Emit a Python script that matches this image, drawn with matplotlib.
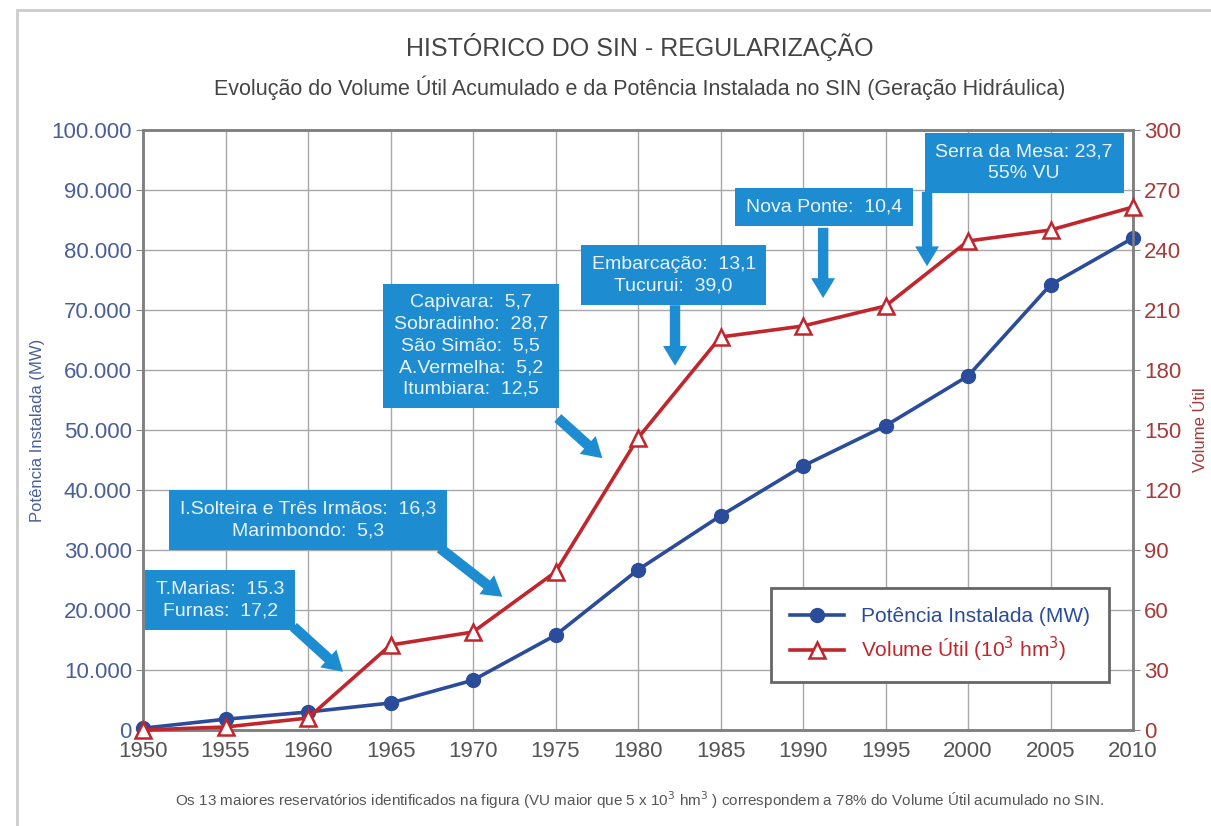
import matplotlib
matplotlib.use("Agg")
import matplotlib.pyplot as plt
from matplotlib.ticker import FuncFormatter
from matplotlib.lines import Line2D

plt.rcParams['font.family'] = ['Liberation Sans Narrow', 'Liberation Sans', 'DejaVu Sans']

# data
years = [1950, 1955, 1960, 1965, 1970, 1975, 1980, 1985, 1990, 1995, 2000, 2005, 2010]
potencia_mw = [300, 1800, 3000, 4500, 8300, 15800, 26700, 35700, 44000, 50700, 59000, 74200, 82000]
volume_util = [0, 1.5, 6, 42.5, 49, 79, 146, 196.5, 202, 212, 244.5, 250, 261.5]

left_ticks = list(range(0, 100001, 10000))
right_ticks = list(range(0, 301, 30))

callouts = [
    "T.Marias:  15.3\nFurnas:  17,2",
    "I.Solteira e Três Irmãos:  16,3\nMarimbondo:  5,3",
    "Capivara:  5,7\nSobradinho:  28,7\nSão Simão:  5,5\nA.Vermelha:  5,2\nItumbiara:  12,5",
    "Embarcação:  13,1\nTucurui:  39,0",
    "Nova Ponte:  10,4",
    "Serra da Mesa: 23,7\n55% VU",
]
# box centres and arrows (tail -> head), axes fraction
box_pos = [(0.078, 0.217), (0.167, 0.35), (0.331, 0.64), (0.536, 0.758), (0.688, 0.872), (0.890, 0.945)]
arrows = [((0.152, 0.172), (0.202, 0.097)),
          ((0.300, 0.303), (0.363, 0.222)),
          ((0.419, 0.52), (0.464, 0.453)),
          ((0.5374, 0.708), (0.5374, 0.607)),
          ((0.687, 0.837), (0.687, 0.72)),
          ((0.792, 0.897), (0.792, 0.773))]

BLUE = '#2b4c9b'
RED = '#c0262c'
BOX = '#1d8cd0'
BLUE_TXT = '#4a5f98'
RED_TXT = '#a83a3a'
GRAY = '#555555'

fig = plt.figure(figsize=(12.11, 8.26), dpi=100)
ax = fig.add_axes([143 / 1211, 1 - 730 / 826, 990 / 1211, 600 / 826])
ax2 = ax.twinx()

ax.plot(years, potencia_mw, color=BLUE, lw=2.6, marker='o', ms=10, clip_on=False, zorder=3)
ax2.plot(years, volume_util, color=RED, lw=2.6, marker='^', ms=12, mfc='white', mec=RED,
         mew=1.8, clip_on=False, zorder=3)

ax.set_xlim(1950, 2010)
ax.set_ylim(0, 100000)
ax2.set_ylim(0, 300)
ax.set_xticks(years)
ax.set_yticks(left_ticks)
ax2.set_yticks(right_ticks)
ax.yaxis.set_major_formatter(FuncFormatter(lambda v, p: f"{int(v):,}".replace(',', '.')))
ax.grid(True, color='#a8a8a8', lw=1)
ax.set_axisbelow(True)

ax.tick_params(axis='x', labelsize=16, colors=GRAY, length=0, pad=8)
ax.tick_params(axis='y', length=5, color='#888888', pad=3)
for t in ax.get_yticklabels():
    t.set_family(['Liberation Sans', 'DejaVu Sans'])
    t.set_fontsize(16)
    t.set_color(BLUE_TXT)
ax2.tick_params(axis='y', length=5, color='#888888', pad=3)
for t in ax2.get_yticklabels():
    t.set_family(['Liberation Sans', 'DejaVu Sans'])
    t.set_fontsize(16)
    t.set_color(RED_TXT)
for a in (ax, ax2):
    for s in a.spines.values():
        s.set_color('#808080')
        s.set_linewidth(1.8)

ax.set_ylabel("Potência Instalada (MW)", color=BLUE_TXT, fontsize=12)
ax.yaxis.set_label_coords(-0.099, 0.5)
ax2.set_ylabel("Volume Útil", color=RED_TXT, fontsize=12, rotation=90)
ax2.yaxis.set_label_coords(1.061, 0.5)

# callouts
for txt, (bx, by), (tail, head) in zip(callouts, box_pos, arrows):
    ax2.annotate("", xy=head, xytext=tail, xycoords='axes fraction', textcoords='axes fraction',
                 arrowprops=dict(arrowstyle="simple,head_length=0.95,head_width=1.15,tail_width=0.5",
                                 mutation_scale=15, color=BOX, lw=0, shrinkA=0, shrinkB=0),
                 zorder=5)
    ax2.text(bx, by, txt, transform=ax2.transAxes, ha='center', va='center', fontsize=14,
             color='#eaf3fb', linespacing=1.35, zorder=6,
             bbox=dict(boxstyle='square,pad=0.55', fc=BOX, ec='none'))

# legend
handles = [Line2D([], [], color=BLUE, lw=2.6, marker='o', ms=10),
           Line2D([], [], color=RED, lw=2.6, marker='^', ms=12, mfc='white', mec=RED, mew=1.8)]
leg = ax2.legend(handles, ["Potência Instalada (MW)", "Volume Útil (10$^{3}$ hm$^{3}$)"],
                 loc='lower right', bbox_to_anchor=(0.986, 0.062), fontsize=15, frameon=True,
                 fancybox=False, edgecolor='#666666', framealpha=1, borderpad=0.9,
                 handlelength=2.6, labelspacing=0.4)
leg.get_frame().set_linewidth(2)
leg.set_zorder(7)
leg.get_texts()[0].set_color(BLUE)
leg.get_texts()[1].set_color(RED)
for t in leg.get_texts():
    t.set_family(['Liberation Sans', 'DejaVu Sans'])

fig.text(640 / 1211, 1 - 47 / 826, "HISTÓRICO DO SIN - REGULARIZAÇÃO", ha='center', va='center',
         fontsize=18, color='#444444')
fig.text(640 / 1211, 1 - 88 / 826,
         "Evolução do Volume Útil Acumulado e da Potência Instalada no SIN (Geração Hidráulica)",
         ha='center', va='center', fontsize=15.5, color='#444444')
fig.text(640 / 1211, 1 - 800 / 826,
         "Os 13 maiores reservatórios identificados na figura (VU maior que 5 x 10$^{3}$ hm$^{3}$ ) "
         "correspondem a 78% do Volume Útil acumulado no SIN.",
         ha='center', va='center', fontsize=11, color=GRAY)

# light frame around the figure
fig.add_artist(Line2D([17 / 1211, 17 / 1211], [0, 1 - 10 / 826], transform=fig.transFigure,
                      color='#cccccc', lw=2))
fig.add_artist(Line2D([17 / 1211, 1], [1 - 10 / 826, 1 - 10 / 826], transform=fig.transFigure,
                      color='#cccccc', lw=2))

fig.savefig("out.png", dpi=100)
